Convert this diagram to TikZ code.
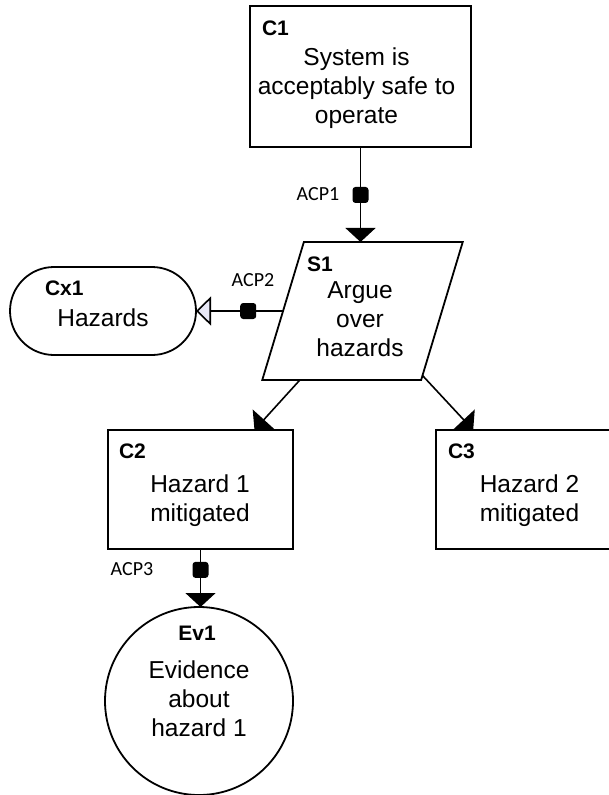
\documentclass[tikz,border=0pt]{standalone}
\usepackage{fontspec}
\setmainfont{Liberation Sans}
\newfontfamily\acpfont{Carlito}
\usetikzlibrary{arrows.meta,shapes.geometric,shapes.misc}
\definecolor{openfill}{RGB}{232,232,246}
\begin{document}
\begin{tikzpicture}[x=1pt,y=-1pt,
  every node/.style={inner sep=0pt, outer sep=0pt},
  goalbox/.style={rectangle, draw, line width=1.8pt},
  strategy/.style={trapezium, draw, line width=1.8pt, inner sep=5pt,
    trapezium left angle=70.8, trapezium right angle=109.2,
    trapezium stretches=true, minimum width=201pt, minimum height=138pt},
  context/.style={rounded rectangle, draw, line width=1.8pt,
    minimum width=186pt, minimum height=88pt},
  solution/.style={circle, draw, line width=1.8pt, minimum size=188pt},
  idtext/.style={anchor=base west, font=\bfseries\fontsize{21}{25}\selectfont},
  body/.style={align=center, font=\fontsize{24.5}{29}\selectfont},
  acp/.style={font=\acpfont\fontsize{20}{24}\selectfont},
  marker/.style={rectangle, fill=black, rounded corners=3pt, minimum size=16pt},
  arr/.style={line width=1.6pt, -{Triangle[length=14pt,width=30pt]}},
  ctxarr/.style={line width=1.6pt, -{Triangle[length=15pt,width=29pt,fill=openfill]}}
]
\clip (0,0) rectangle (609,795);

% goal C1
\node[goalbox, minimum width=221pt, minimum height=141pt] (C1) at (360.5,76.5) {};
\node[idtext] (C1id) at (262,35) {C1};
\node[body] (C1txt) at (356.5,88.2) {\strut System is\\acceptably safe to\\operate\strut};

% strategy S1
\node[strategy] (S1) at (362.5,311) {\phantom{x}};
\node[idtext] (S1id) at (307,271) {S1};
\node[body] (S1txt) at (360,321.9) {\strut Argue\\over\\hazards\strut};

% context Cx1
\node[context] (Cx1) at (103,311) {};
\node[idtext] (Cx1id) at (45,295) {Cx1};
\node[body, anchor=base] (Cx1txt) at (103,326) {Hazards};

% sub-goals C2 and C3
\node[goalbox, minimum width=185pt, minimum height=119pt] (C2) at (200.5,489.5) {};
\node[idtext] (C2id) at (119,458) {C2};
\node[body] (C2txt) at (200,501.2) {\strut Hazard 1\\mitigated\strut};

\node[goalbox, minimum width=185pt, minimum height=119pt] (C3) at (528.5,489.5) {};
\node[idtext] (C3id) at (448,458) {C3};
\node[body] (C3txt) at (529.5,501.2) {\strut Hazard 2\\mitigated\strut};

% solution Ev1
\node[solution] (Ev1) at (199,701) {};
\node[idtext, anchor=base] (Ev1id) at (197,640) {Ev1};
\node[body] (Ev1txt) at (199,701.2) {\strut Evidence\\about\\hazard 1\strut};

% connectors with assurance claim points
\draw[arr] (C1.south) -- node[marker, pos=0.505] (m1) {} (C1.south |- S1.north);
\node[acp] (acp1) at (318,194) {ACP1};

\draw[ctxarr] (S1) -- node[marker, pos=0.4] (m2) {} (Cx1);
\node[acp] (acp2) at (253,280) {ACP2};

\draw[arr] (S1) -- (C2);
\draw[arr] (S1) -- (C3);

\draw[arr] (C2.south) -- node[marker, pos=0.36] (m3) {} (C2.south |- Ev1.north);
\node[acp] (acp3) at (132,569) {ACP3};
\end{tikzpicture}
\end{document}
